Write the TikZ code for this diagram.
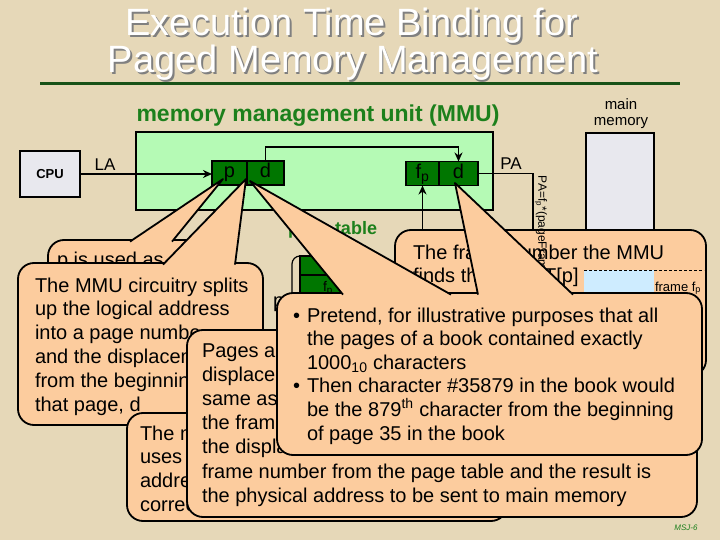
\documentclass[tikz,border=0pt]{standalone}
\usepackage{fontspec}
\setmainfont{Liberation Sans}
\usetikzlibrary{arrows.meta}
\definecolor{bg}{RGB}{230,216,184}
\definecolor{peach}{RGB}{252,204,158}
\definecolor{mmugreen}{RGB}{181,250,181}
\definecolor{dkgreen}{RGB}{0,118,0}
\definecolor{labgreen}{RGB}{28,128,28}
\definecolor{rulegreen}{RGB}{24,82,24}
\definecolor{boxgray}{RGB}{232,232,238}
\definecolor{lblue}{RGB}{206,236,255}
\newcommand{\fs}[1]{\fontsize{#1}{#1}\selectfont}
\newcommand{\textlines}[5]{%
  \foreach \linetxt [count=\i] in {#5} {%
    \node[txt] (#1-\i) at ({#2},{#3+(\i-1)*#4}) {\linetxt};}}
\begin{document}
\begin{tikzpicture}[x=1pt,y=-1pt,
  every node/.style={inner sep=0pt,outer sep=0pt},
  txt/.style={font=\fs{20},anchor=base west},
  callout/.style={fill=peach,draw=black,line width=1.8pt,rounded corners=16pt,anchor=north west},
  ptrline/.style={draw=black,line width=1.8pt,line join=round},
  conn/.style={line width=1.6pt},
  arr/.style={line width=1.6pt,-{Stealth[length=9pt,width=8pt]}},
  unitbox/.style={draw=black,line width=1.4pt,fill=dkgreen,minimum height=24pt,text height=10pt,text depth=0pt,font=\fs{20}}]
\useasboundingbox (0,0) rectangle (720,540);
\fill[bg] (0,0) rectangle (720,540);
% title
\node[font=\fs{38},text=black!50,anchor=base] (t1s) at (353.8,37.3) {Execution Time Binding for};
\node[font=\fs{38},text=white,anchor=base] (t1) at (352,35.5) {Execution Time Binding for};
\node[font=\fs{38},text=black!50,anchor=base] (t2s) at (354.8,74.3) {Paged Memory Management};
\node[font=\fs{38},text=white,anchor=base] (t2) at (353,72.5) {Paged Memory Management};
\draw[rulegreen,line width=3pt] (40,84) -- (680,84);
\node[font=\bfseries\fs{23},text=labgreen,anchor=base] (mmulabel) at (318,122) {memory management unit (MMU)};
\node[font=\fs{15},anchor=base] (mm1) at (621,110) {main};
\node[font=\fs{15},anchor=base] (mm2) at (621,126) {memory};
% main memory, CPU, MMU
\node[draw=black,line width=1.5pt,fill=boxgray,minimum width=68pt,minimum height=290pt,anchor=north west] (mem) at (586,133) {};
\node[draw=black,line width=1.5pt,fill=boxgray,minimum width=60pt,minimum height=46pt,font=\bfseries\fs{13}] (cpu) at (50,174) {CPU};
\node[font=\fs{17},anchor=base] (la) at (105,171) {LA};
\node[draw=black,line width=1.8pt,fill=mmugreen,minimum width=357pt,minimum height=78pt] (mmu) at (314.5,171) {};
\node[unitbox,minimum width=35pt] (lp) at (229.5,173) {p};
\node[unitbox,minimum width=37pt] (ld) at (265.5,173) {d};
\node[unitbox,minimum width=33pt] (pf) at (422.5,173.5) {f\textsubscript{p}};
\node[unitbox,minimum width=39pt] (pd) at (458.5,173.5) {d};
\draw[arr] (cpu.east) -- (cpu.east -| lp.west);
\draw[arr] (ld.north) -- ++(0,-14) -| (pd.north);
\coordinate (paend) at (533,250);
\draw[conn] (pd.east) -| (paend);
\node[font=\fs{17},anchor=base] (pa) at (511,170) {PA};
% page table
\node[font=\bfseries\fs{18},text=labgreen,anchor=base west] (ptlabel) at (288,234) {page table};
\draw[line width=1.2pt,rounded corners=8pt] (370,256) -- (292,256) -- (292,340);
\node[draw=black,line width=1.2pt,fill=dkgreen,minimum width=80pt,minimum height=80pt,anchor=north west] (ptab) at (300,256) {};
\draw[line width=1.2pt] (ptab.west |- 0,275) -- (ptab.east |- 0,275);
\node[font=\fs{14},anchor=base west] (fpt) at (323,291) {f\textsubscript{p}};
\node[font=\fs{20},anchor=base west] (pidx) at (273,307) {p};
\coordinate (ptop) at (422.5,250);
\draw[arr] (ptop) -- (pf.south);
% callout 1
\node[callout,minimum width=184pt,minimum height=90pt] (c1) at (48,240) {};
\fill[peach] (130,241.6) -- (223,179) -- (172,241.6) -- cycle;
\draw[ptrline] (130,241.6) -- (223,179) -- (172,241.6);
\node[txt] (c1-1) at (57,266) {p is used as an};
% callout 2
\node[callout,minimum width=245pt,minimum height=162pt] (c2) at (18,263) {};
\fill[peach] (163,264.6) -- (246,179) -- (235,264.6) -- cycle;
\draw[ptrline] (163,264.6) -- (246,179) -- (235,264.6);
\textlines{c2}{35}{292}{23.8}{The MMU circuitry splits, up the logical address, into a page numbe, and the displacem, from the beginning, {that page, d}}
% callout 7
\node[callout,minimum width=380pt,minimum height=108pt] (c7) at (127,413) {};
\textlines{c7}{140}{440}{23.7}{The m, uses, addres, correct}
% callout 5
\node[callout,minimum width=311pt,minimum height=146pt] (c5) at (395,230) {};
\textlines{c5}{413}{259}{23.5}{The frame number the MMU, finds the entry T[p]}
\fill[lblue] (584,270) rectangle (654,330);
\draw[line width=1pt,dash pattern=on 3pt off 2pt] (584,270) -- (704,270);
\node[font=\fs{13},anchor=base west] (fr) at (655,291) {frame f\textsubscript{p}};
\node[font=\fs{13},anchor=base] (pg) at (619,303) {page p};
\node[font=\fs{12},rotate=-90,anchor=west] (paf) at (541,176) {PA=f\textsubscript{p}*(pageFrameSize)+d};
% callout 4
\node[callout,minimum width=510pt,minimum height=187pt] (c4) at (187,330) {};
\textlines{c4}{202}{357}{24.2}{Pages and, displacem, same as, the frame, the displac, frame number from the page table and the result is, the physical address to be sent to main memory}
% callout 6
\node[callout,minimum width=425pt,minimum height=162pt] (c6) at (277,293) {};
\fill[peach] (343,294.6) -- (250,181) -- (451,294.6) -- cycle;
\draw[ptrline] (343,294.6) -- (250,181) -- (451,294.6);
\fill[peach] (478,294.6) -- (455,183) -- (573,294.6) -- cycle;
\draw[ptrline] (478,294.6) -- (455,183) -- (573,294.6);
\node[txt] (b1) at (293,322) {•};
\node[txt] (b2) at (293,392.8) {•};
\textlines{c6}{307}{322}{23.6}{{Pretend, for illustrative purposes that all}, the pages of a book contained exactly, 1000\textsubscript{10} characters, Then character \#35879 in the book would, be the 879\textsuperscript{th} character from the beginning, of page 35 in the book}
\node[font=\itshape\fs{8},text=labgreen] (msj) at (686,528) {MSJ-6};
\end{tikzpicture}
\end{document}
